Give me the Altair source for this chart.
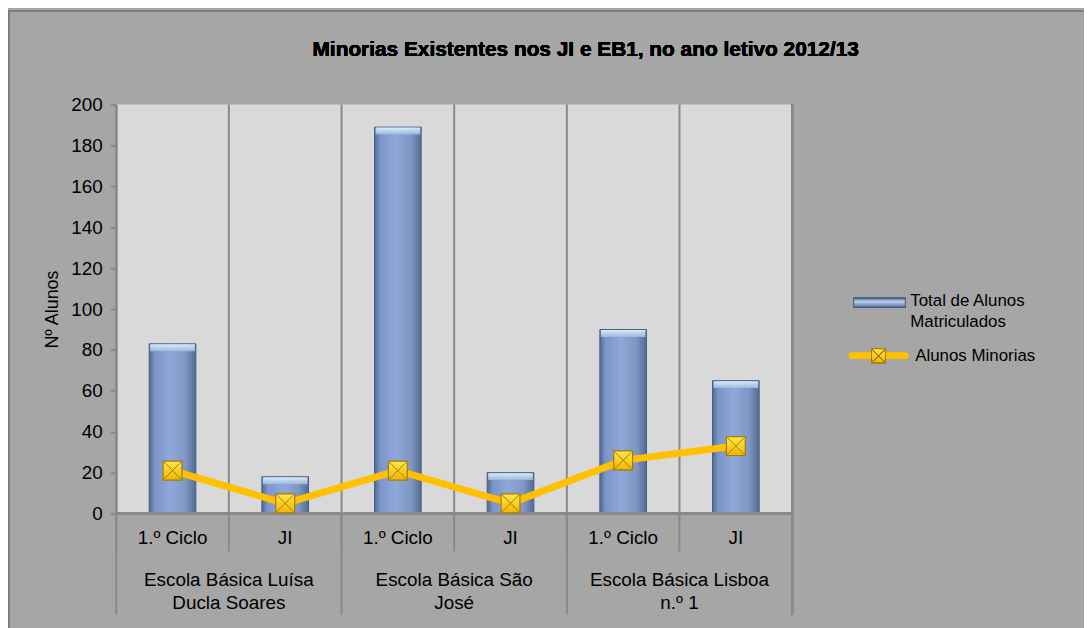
import altair as alt
import pandas as pd

# ---- data ----
schools = ["Escola Básica Luísa Ducla Soares", "Escola Básica São José", "Escola Básica Lisboa n.º 1"]
school_lines = [["Escola Básica Luísa", "Ducla Soares"], ["Escola Básica São", "José"], ["Escola Básica Lisboa", "n.º 1"]]
levels = ["1.º Ciclo", "JI"]
total_alunos = [83, 18, 189, 20, 90, 65]
alunos_minorias = [21, 5, 21, 5, 26, 33]
series_names = [["Total de Alunos", "Matriculados"], ["Alunos Minorias"]]
title_text = "Minorias Existentes nos JI e EB1, no ano letivo 2012/13"
y_title = "Nº Alunos"
y_ticks = list(range(0, 201, 20))

FONT = "Liberation Sans, Arial, sans-serif"
W, H = 681, 412
GRID = "#898989"

keys, lvl_lab, sch = [], [], []
for s in schools:
    for l in levels:
        keys.append(f"{s}|{l}")
        lvl_lab.append(l)
        sch.append(s)

df = pd.DataFrame({"key": keys, "level": lvl_lab, "school": sch,
                   "total": total_alunos, "minorias": alunos_minorias})
groups = pd.DataFrame({"key": [f"{s}|{levels[0]}" for s in schools], "label": school_lines})

xscale = alt.Scale(domain=keys, paddingInner=0, paddingOuter=0)
yscale = alt.Scale(domain=[0, 200], nice=False)


def X(**kw):
    return alt.X("key:N", scale=xscale, axis=None, sort=keys, **kw)


base = alt.Chart(df)

bar_grad = alt.Gradient(gradient="linear", x1=0, x2=1, y1=0, y2=0, stops=[
    alt.GradientStop(offset=0, color="#4f6890"),
    alt.GradientStop(offset=0.12, color="#7b95c9"),
    alt.GradientStop(offset=0.45, color="#90a7db"),
    alt.GradientStop(offset=0.78, color="#7f97c2"),
    alt.GradientStop(offset=1, color="#536c95"),
])
cap_grad = alt.Gradient(gradient="linear", x1=0, x2=0, y1=0, y2=1, stops=[
    alt.GradientStop(offset=0, color="#e2f6fb"),
    alt.GradientStop(offset=1, color="#9fb8e0"),
])
mk_grad = alt.Gradient(gradient="linear", x1=0, x2=0, y1=0, y2=1, stops=[
    alt.GradientStop(offset=0, color="#ffe84d"),
    alt.GradientStop(offset=1, color="#f2b500"),
])

y_axis = alt.Axis(values=y_ticks, grid=False, tickSize=6, tickColor=GRID, tickWidth=2,
                  domainColor=GRID, domainWidth=2, labelFontSize=19, labelColor="black",
                  labelFont=FONT, labelPadding=8, title=y_title, titleFont=FONT,
                  titleFontSize=18, titleFontWeight="normal", titleColor="black",
                  titleX=-64, titleY=H / 2, titleAngle=270, titleAlign="center",
                  titleBaseline="middle")

grid_rules = base.mark_rule(color=GRID, strokeWidth=2).encode(
    x=X(bandPosition=0), y=alt.value(0), y2=alt.value(H + 38))
group_rules = alt.Chart(groups).mark_rule(color=GRID, strokeWidth=2).encode(
    x=X(bandPosition=0), y=alt.value(H), y2=alt.value(H + 102))
right_edge = base.mark_rule(color=GRID, strokeWidth=2).encode(
    x=alt.value(W), y=alt.value(0), y2=alt.value(H + 102))
bottom_line = base.mark_rule(color=GRID, strokeWidth=3).encode(
    x=alt.value(0), x2=alt.value(W), y=alt.value(H))

bars = base.mark_bar(size=47, fill=bar_grad, stroke="#4a5e80", strokeWidth=1).encode(
    x=X(), y=alt.Y("total:Q", scale=yscale, axis=y_axis))
caps = base.mark_tick(size=45, thickness=7, yOffset=4, color=cap_grad, opacity=0.9).encode(
    x=X(), y=alt.Y("total:Q", scale=yscale))

line = base.mark_line(color="#ffc000", strokeWidth=7).encode(
    x=X(), y=alt.Y("minorias:Q", scale=yscale))
squares = base.mark_square(size=361, fill=mk_grad, stroke="#a67c00", strokeWidth=1.2, opacity=1).encode(
    x=X(), y=alt.Y("minorias:Q", scale=yscale))
crosses = base.mark_point(shape="M-1,-1L1,1M1,-1L-1,1", size=300, filled=False,
                          stroke="#a67c00", strokeWidth=1, opacity=1).encode(
    x=X(), y=alt.Y("minorias:Q", scale=yscale))

level_text = base.mark_text(font=FONT, fontSize=19, color="black", baseline="middle").encode(
    x=X(), y=alt.value(H + 25), text="level:N")
group_text = alt.Chart(groups).mark_text(font=FONT, fontSize=19, color="black", baseline="top",
                                         lineHeight=23).encode(
    x=X(bandPosition=1), y=alt.value(H + 58), text="label")

title = base.mark_text(font=FONT, fontSize=21, fontWeight="bold", color="black",
                       baseline="middle", align="center", text=title_text).encode(
    x=alt.value(473), y=alt.value(-55))

border = base.mark_rect(fill=None, stroke="#7f7f7f", strokeWidth=1.5).encode(
    x=alt.value(-108), x2=alt.value(W + 320), y=alt.value(-94), y2=alt.value(H + 140))

leg_df = pd.DataFrame({"name": series_names})
leg_bar = base.mark_rect(fill=alt.Gradient(gradient="linear", x1=0, x2=0, y1=0, y2=1, stops=[
    alt.GradientStop(offset=0, color="#5a739c"), alt.GradientStop(offset=0.4, color="#b9d0f2"),
    alt.GradientStop(offset=1, color="#5f78a2")]), stroke="#4a5e80", strokeWidth=1).encode(
    x=alt.value(743), x2=alt.value(795), y=alt.value(195), y2=alt.value(204))
leg_text1 = alt.Chart(leg_df.iloc[[0]]).mark_text(font=FONT, fontSize=17, color="black", align="left",
                                                   baseline="top", lineHeight=21).encode(
    x=alt.value(800), y=alt.value(190), text="name")
leg_line = base.mark_rule(color="#ffc000", strokeWidth=6, strokeCap="round").encode(
    x=alt.value(741), x2=alt.value(795), y=alt.value(253))
leg_sq = base.mark_square(size=196, fill=mk_grad, stroke="#a67c00", strokeWidth=1, opacity=1).encode(
    x=alt.value(768), y=alt.value(253))
leg_x = base.mark_point(shape="M-1,-1L1,1M1,-1L-1,1", size=160, filled=False, stroke="#a67c00",
                        strokeWidth=1, opacity=1).encode(x=alt.value(768), y=alt.value(253))
leg_text2 = alt.Chart(leg_df.iloc[[1]]).mark_text(font=FONT, fontSize=17, color="black", align="left",
                                                   baseline="middle").encode(
    x=alt.value(805), y=alt.value(253), text="name")

chart = alt.layer(
    border, grid_rules, group_rules, right_edge, bars, caps, bottom_line,
    line, squares, crosses, level_text, group_text, title,
    leg_bar, leg_text1, leg_line, leg_sq, leg_x, leg_text2,
).properties(
    width=W, height=H,
    autosize=alt.AutoSizeParams(type="none"),
    padding={"left": 109, "top": 95, "right": 294, "bottom": 113},
).configure(background="#a6a6a6").configure_view(stroke=None, fill="#d9d9d9")

chart.save("out.html", embed_options={"renderer": "svg", "actions": False})
